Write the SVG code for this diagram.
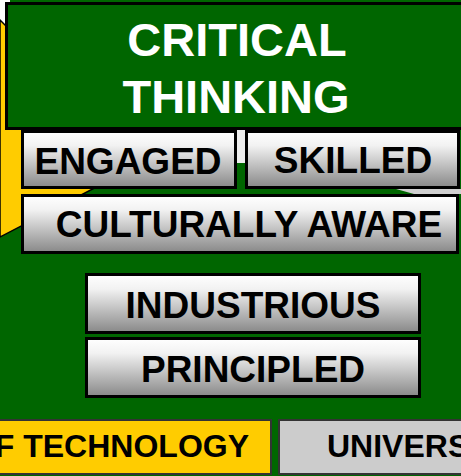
<svg xmlns="http://www.w3.org/2000/svg" width="461" height="476" viewBox="0 0 461 476">
  <defs>
    <linearGradient id="btn" x1="0" y1="0" x2="0" y2="1">
      <stop offset="0" stop-color="#ffffff"/>
      <stop offset="0.25" stop-color="#f2f2f2"/>
      <stop offset="1" stop-color="#888888"/>
    </linearGradient>
    <style>
      .lbl { font-family: "Liberation Sans", Arial, sans-serif; font-weight: bold; text-anchor: middle; }
      .btn { fill: url(#btn); stroke: #000; stroke-width: 3; }
      .dark { fill: #000; font-size: 37px; }
      .white { fill: #fff; font-size: 47px; }
      .bottom { font-size: 32px; fill: #000; }
    </style>
  </defs>

  <!-- background -->
  <g id="background">
    <rect x="0" y="0" width="461" height="476" fill="#006600"/>
    <polygon points="0,0 10,0 10,30 0,20" fill="#ffffff"/>
    <polygon points="0,20 110,130 110,180 0,237" fill="#ffcc00" stroke="#000" stroke-width="1.5"/>
    <rect x="237" y="130" width="8" height="33" fill="#eeeeee"/>
    <polygon points="396,189 461,189 461,194 414,194" fill="#d0d0d0"/>
  </g>

  <g id="critical-thinking">
    <rect x="6.5" y="3.5" width="470" height="125" fill="#006600" stroke="#000" stroke-width="3"/>
    <text class="lbl white" x="237" y="56">CRITICAL</text>
    <text class="lbl white" x="236" y="113">THINKING</text>
  </g>

  <g id="engaged">
    <rect class="btn" x="22.5" y="131.5" width="213" height="56"/>
    <text class="lbl dark" x="128" y="174">ENGAGED</text>
  </g>

  <g id="skilled">
    <rect class="btn" x="246.5" y="131.5" width="212" height="56"/>
    <text class="lbl dark" x="353" y="173">SKILLED</text>
  </g>

  <g id="culturally-aware">
    <rect class="btn" x="22.5" y="195.5" width="435" height="57"/>
    <text class="lbl dark" x="249" y="237">CULTURALLY AWARE</text>
  </g>

  <g id="industrious">
    <rect class="btn" x="86.5" y="274.5" width="333" height="58"/>
    <text class="lbl dark" x="253" y="318">INDUSTRIOUS</text>
  </g>

  <g id="principled">
    <rect class="btn" x="86.5" y="338.5" width="333" height="58"/>
    <text class="lbl dark" x="253" y="382">PRINCIPLED</text>
  </g>

  <g id="technology">
    <rect x="-5" y="420" width="276" height="54" fill="#ffcc00" stroke="#333" stroke-width="2"/>
    <text class="lbl bottom" x="249" y="457" style="text-anchor:end">F TECHNOLOGY</text>
  </g>

  <g id="university">
    <rect x="279" y="420" width="200" height="54" fill="#cccccc" stroke="#333" stroke-width="2"/>
    <text class="lbl bottom" x="327" y="457" style="text-anchor:start">UNIVERS</text>
  </g>

  <g id="connectors"></g>
</svg>
